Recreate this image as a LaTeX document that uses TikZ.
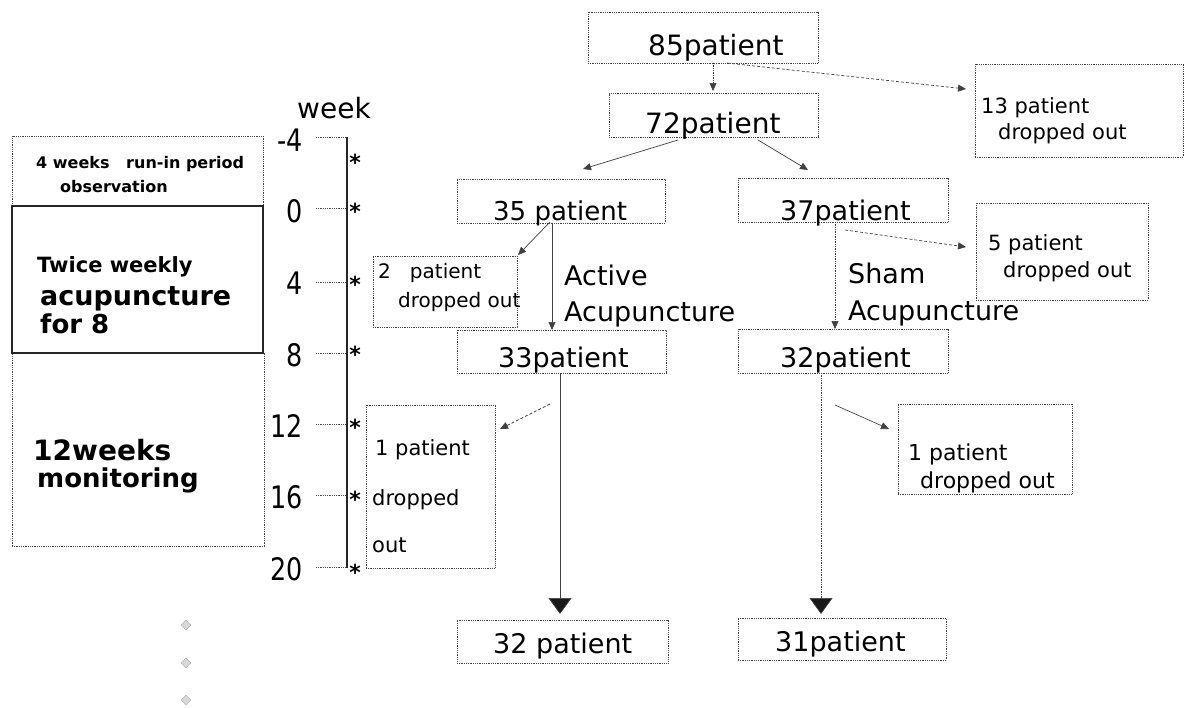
\documentclass[tikz,border=0pt]{standalone}
\usepackage{fontspec}
\setmainfont{DejaVu Sans}
\newfontfamily\numfont[FakeStretch=0.82]{DejaVu Sans}
\usetikzlibrary{arrows.meta,calc,shapes.geometric}
\newcommand{\fsz}[1]{\fontsize{#1}{#1}\selectfont}
\tikzset{
  box/.style={draw=black!75, densely dotted, line width=0.8pt, inner sep=0pt},
  solidbox/.style={draw=black!85, line width=1.1pt, inner sep=0pt},
  txt/.style={anchor=base west, inner sep=0pt},
  num/.style={anchor=base east, inner sep=0pt, font=\numfont\fsz{31}},
  ast/.style={anchor=base, inner sep=0pt, font=\bfseries\fsz{22}},
  conn/.style={draw=black!75, line width=0.7pt, -{Triangle[length=8pt,width=7pt]}},
  bigconn/.style={draw=black!75, line width=0.7pt, -{Triangle[length=16pt,width=23pt,fill=black!90]}},
  tick/.style={draw=black!70, densely dotted, line width=0.8pt},
  gem/.style={diamond, draw=black!35, fill=black!15, line width=0.4pt, minimum width=10pt, minimum height=10pt, inner sep=0pt}
}
\begin{document}
\begin{tikzpicture}[x=1pt,y=-1pt]
\useasboundingbox (0,0) rectangle (1185,707);
\fill[white] (0,0) rectangle (1185,707);

% ---------- left phase boxes ----------
\node[box, minimum width=251pt, minimum height=70pt] (L1) at (137.5,171) {};
\node[box, minimum width=252pt, minimum height=193pt] (L3) at (138,449.5) {};
\node[solidbox, minimum width=251pt, minimum height=147pt] (L2) at (137.5,279.5) {};
\node[txt, font=\bfseries\fsz{16}] (t1a) at (36,168) {4 weeks\ \ \ run-in period};
\node[txt, font=\bfseries\fsz{16}] (t1b) at (60,192) {observation};
\node[txt, font=\bfseries\fsz{21}] (t2a) at (37,272) {Twice weekly};
\node[txt, font=\bfseries\fsz{27}] (t2b) at (40,305) {acupuncture};
\node[txt, font=\bfseries\fsz{26}] (t2c) at (40,333) {for 8};
\node[txt, font=\bfseries\fsz{28}] (t3a) at (33,460) {12weeks};
\node[txt, font=\bfseries\fsz{26}] (t3b) at (37,487) {monitoring};

% ---------- week axis ----------
\node[txt, font=\fsz{28}] (week) at (297,118) {week};
\foreach \n/\lab/\ty/\by/\ay in {m4/-4/137/151/170, w0/0/208/222/219, w4/4/282/294/292, w8/8/353/366/362, w12/12/424/437/435, w16/16/495/508/507, w20/20/567/580/580}{
  \node[num] (n\n) at (303,\by) {\lab};
  \coordinate (ts\n) at (316,\ty);
  \coordinate (te\n) at (346,\ty);
  \draw[tick] (ts\n) -- (te\n);
  \node[ast] (a\n) at (355,\ay) {*};
}
\coordinate (bartop) at (347,137);
\coordinate (barbot) at (347,568);
\draw[black!85, line width=2.6pt] (bartop) -- (barbot);

% ---------- flow boxes ----------
\node[box, minimum width=230pt, minimum height=51pt] (n85) at (703,37.5) {};
\node[box, minimum width=209pt, minimum height=44pt] (n72) at (713.5,115) {};
\node[box, minimum width=208pt, minimum height=93pt] (n13) at (1079,110.5) {};
\node[box, minimum width=208pt, minimum height=44pt] (n35) at (561,201) {};
\node[box, minimum width=210pt, minimum height=44pt] (n37) at (843,200) {};
\node[box, minimum width=144pt, minimum height=71pt] (n2) at (445,291.5) {};
\node[box, minimum width=172pt, minimum height=97pt] (n5) at (1062,251.5) {};
\node[box, minimum width=209pt, minimum height=43pt] (n33) at (561.5,351.5) {};
\node[box, minimum width=210pt, minimum height=44pt] (n32s) at (843,351) {};
\node[box, minimum width=129pt, minimum height=163pt] (nL1) at (430.5,486.5) {};
\node[box, minimum width=174pt, minimum height=90pt] (nR1) at (985,449) {};
\node[box, minimum width=211pt, minimum height=43pt] (n32f) at (562.5,641.5) {};
\node[box, minimum width=208pt, minimum height=42pt] (n31f) at (842,639) {};

% ---------- flow texts ----------
\node[txt, font=\fsz{28}] (t85) at (648,55) {85patient};
\node[txt, font=\fsz{28}] (t72) at (645,133) {72patient};
\node[txt, font=\fsz{26}] (t35) at (493,220) {35 patient};
\node[txt, font=\fsz{27}] (t37) at (780,220) {37patient};
\node[txt, font=\fsz{27}] (t33) at (498,367) {33patient};
\node[txt, font=\fsz{27}] (t32s) at (780,367) {32patient};
\node[txt, font=\fsz{27}] (t32f) at (493,653) {32 patient};
\node[txt, font=\fsz{27}] (t31f) at (775,651) {31patient};
\node[txt, font=\fsz{27}] (tact) at (564,285) {Active};
\node[txt, font=\fsz{27}] (tacu1) at (564,321) {Acupuncture};
\node[txt, font=\fsz{27}] (tsham) at (848,283) {Sham};
\node[txt, font=\fsz{27}] (tacu2) at (848,320) {Acupuncture};
\node[txt, font=\fsz{21}] (t13a) at (981,113) {13 patient};
\node[txt, font=\fsz{21}] (t13b) at (998,139) {dropped out};
\node[txt, font=\fsz{20}] (t2a2) at (378,278) {2\ \ \ patient};
\node[txt, font=\fsz{20}] (t2b2) at (398,307) {dropped out};
\node[txt, font=\fsz{21}] (t5a) at (988,250) {5 patient};
\node[txt, font=\fsz{21}] (t5b) at (1003,277) {dropped out};
\node[txt, font=\fsz{21}] (tL1a) at (375,455) {1 patient};
\node[txt, font=\fsz{21}] (tL1b) at (372,505) {dropped};
\node[txt, font=\fsz{21}] (tL1c) at (372,552) {out};
\node[txt, font=\fsz{22}] (tR1a) at (908,460) {1 patient};
\node[txt, font=\fsz{22}] (tR1b) at (920,488) {dropped out};

% ---------- connector end points ----------
\coordinate (c85a) at (713,63);   \coordinate (c72a) at (713,91);
\coordinate (c85b) at (727,63);   \coordinate (c13a) at (966,89);
\coordinate (c72l) at (678,140);  \coordinate (c35a) at (583,169);
\coordinate (c72r) at (758,140);  \coordinate (c37a) at (808,170);
\coordinate (c35l) at (550,222);  \coordinate (c2a) at (518,255);
\coordinate (c35d) at (552,223);  \coordinate (c33a) at (552,330);
\coordinate (c37d) at (835,222);  \coordinate (c32a) at (835,329);
\coordinate (c37r) at (845,230);  \coordinate (c5a) at (966,247);
\coordinate (c33l) at (550,404);  \coordinate (cL1a) at (500,429);
\coordinate (c33d) at (560,373);  \coordinate (c32fa) at (560,614);
\coordinate (c32r) at (835,405);  \coordinate (cR1a) at (889,429);
\coordinate (c32d) at (821,373);  \coordinate (c31fa) at (821,614);

\draw[conn, densely dotted] (c85a) -- (c72a);
\draw[conn, densely dashed] (c85b) -- (c13a);
\draw[conn] (c72l) -- (c35a);
\draw[conn] (c72r) -- (c37a);
\draw[conn] (c35l) -- (c2a);
\draw[conn] (c35d) -- (c33a);
\draw[conn, densely dotted] (c37d) -- (c32a);
\draw[conn, densely dashed] (c37r) -- (c5a);
\draw[conn, densely dashed] (c33l) -- (cL1a);
\draw[bigconn] (c33d) -- (c32fa);
\draw[conn] (c32r) -- (cR1a);
\draw[bigconn, densely dotted] (c32d) -- (c31fa);

% ---------- stray bullet marks ----------
\node[gem] (g1) at (186,625) {};
\node[gem] (g2) at (186,663) {};
\node[gem] (g3) at (186,700) {};
\end{tikzpicture}
\end{document}
